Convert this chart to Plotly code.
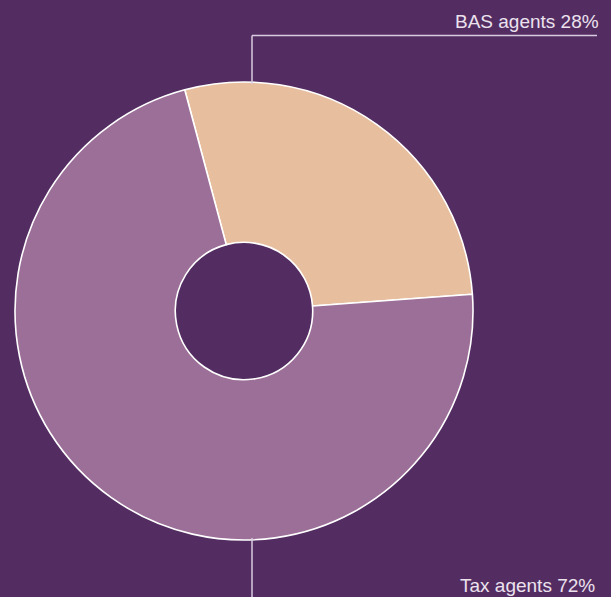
import plotly.graph_objects as go

labels = ["BAS agents", "Tax agents"]
values = [28, 72]
colors = ["#e7bf9f", "#9c6f98"]

W, H = 611, 597
BG = "#532d62"
cx, cy, R = 244, 311, 229  # pixel geometry of the donut

fig = go.Figure(go.Pie(
    labels=labels,
    values=values,
    hole=0.30,
    sort=False,
    direction="clockwise",
    rotation=-15,
    marker=dict(colors=colors, line=dict(color="#ffffff", width=1.6)),
    textinfo="none",
    hoverinfo="label+percent",
    domain=dict(x=[(cx - R) / W, (cx + R) / W],
                y=[(H - cy - R) / H, (H - cy + R) / H]),
    showlegend=False,
))

line_col = "#d8cbdf"
def px(x):
    return x / W
def py(y):
    return 1 - y / H

shapes = [
    dict(type="line", xref="paper", yref="paper", x0=px(252), x1=px(597), y0=py(35.5), y1=py(35.5),
         line=dict(color=line_col, width=1.5)),
    dict(type="line", xref="paper", yref="paper", x0=px(252), x1=px(252), y0=py(35.5), y1=py(84),
         line=dict(color=line_col, width=1.5)),
    dict(type="line", xref="paper", yref="paper", x0=px(252), x1=px(252), y0=py(538), y1=py(597),
         line=dict(color=line_col, width=1.5)),
]

font = dict(family="Liberation Sans, Arial, sans-serif", size=19, color="#ece2ee")
annotations = [
    dict(text=f"{labels[0]} {values[0]}%", xref="paper", yref="paper", x=px(601), y=py(34),
         xanchor="right", yanchor="bottom", showarrow=False, font=font),
    dict(text=f"{labels[1]} {values[1]}%", xref="paper", yref="paper", x=px(597), y=py(585),
         xanchor="right", yanchor="middle", showarrow=False, font=font),
]

fig.update_layout(
    width=W, height=H,
    margin=dict(l=0, r=0, t=0, b=0),
    paper_bgcolor=BG, plot_bgcolor=BG,
    shapes=shapes, annotations=annotations,
)

fig.write_html("out.html")
